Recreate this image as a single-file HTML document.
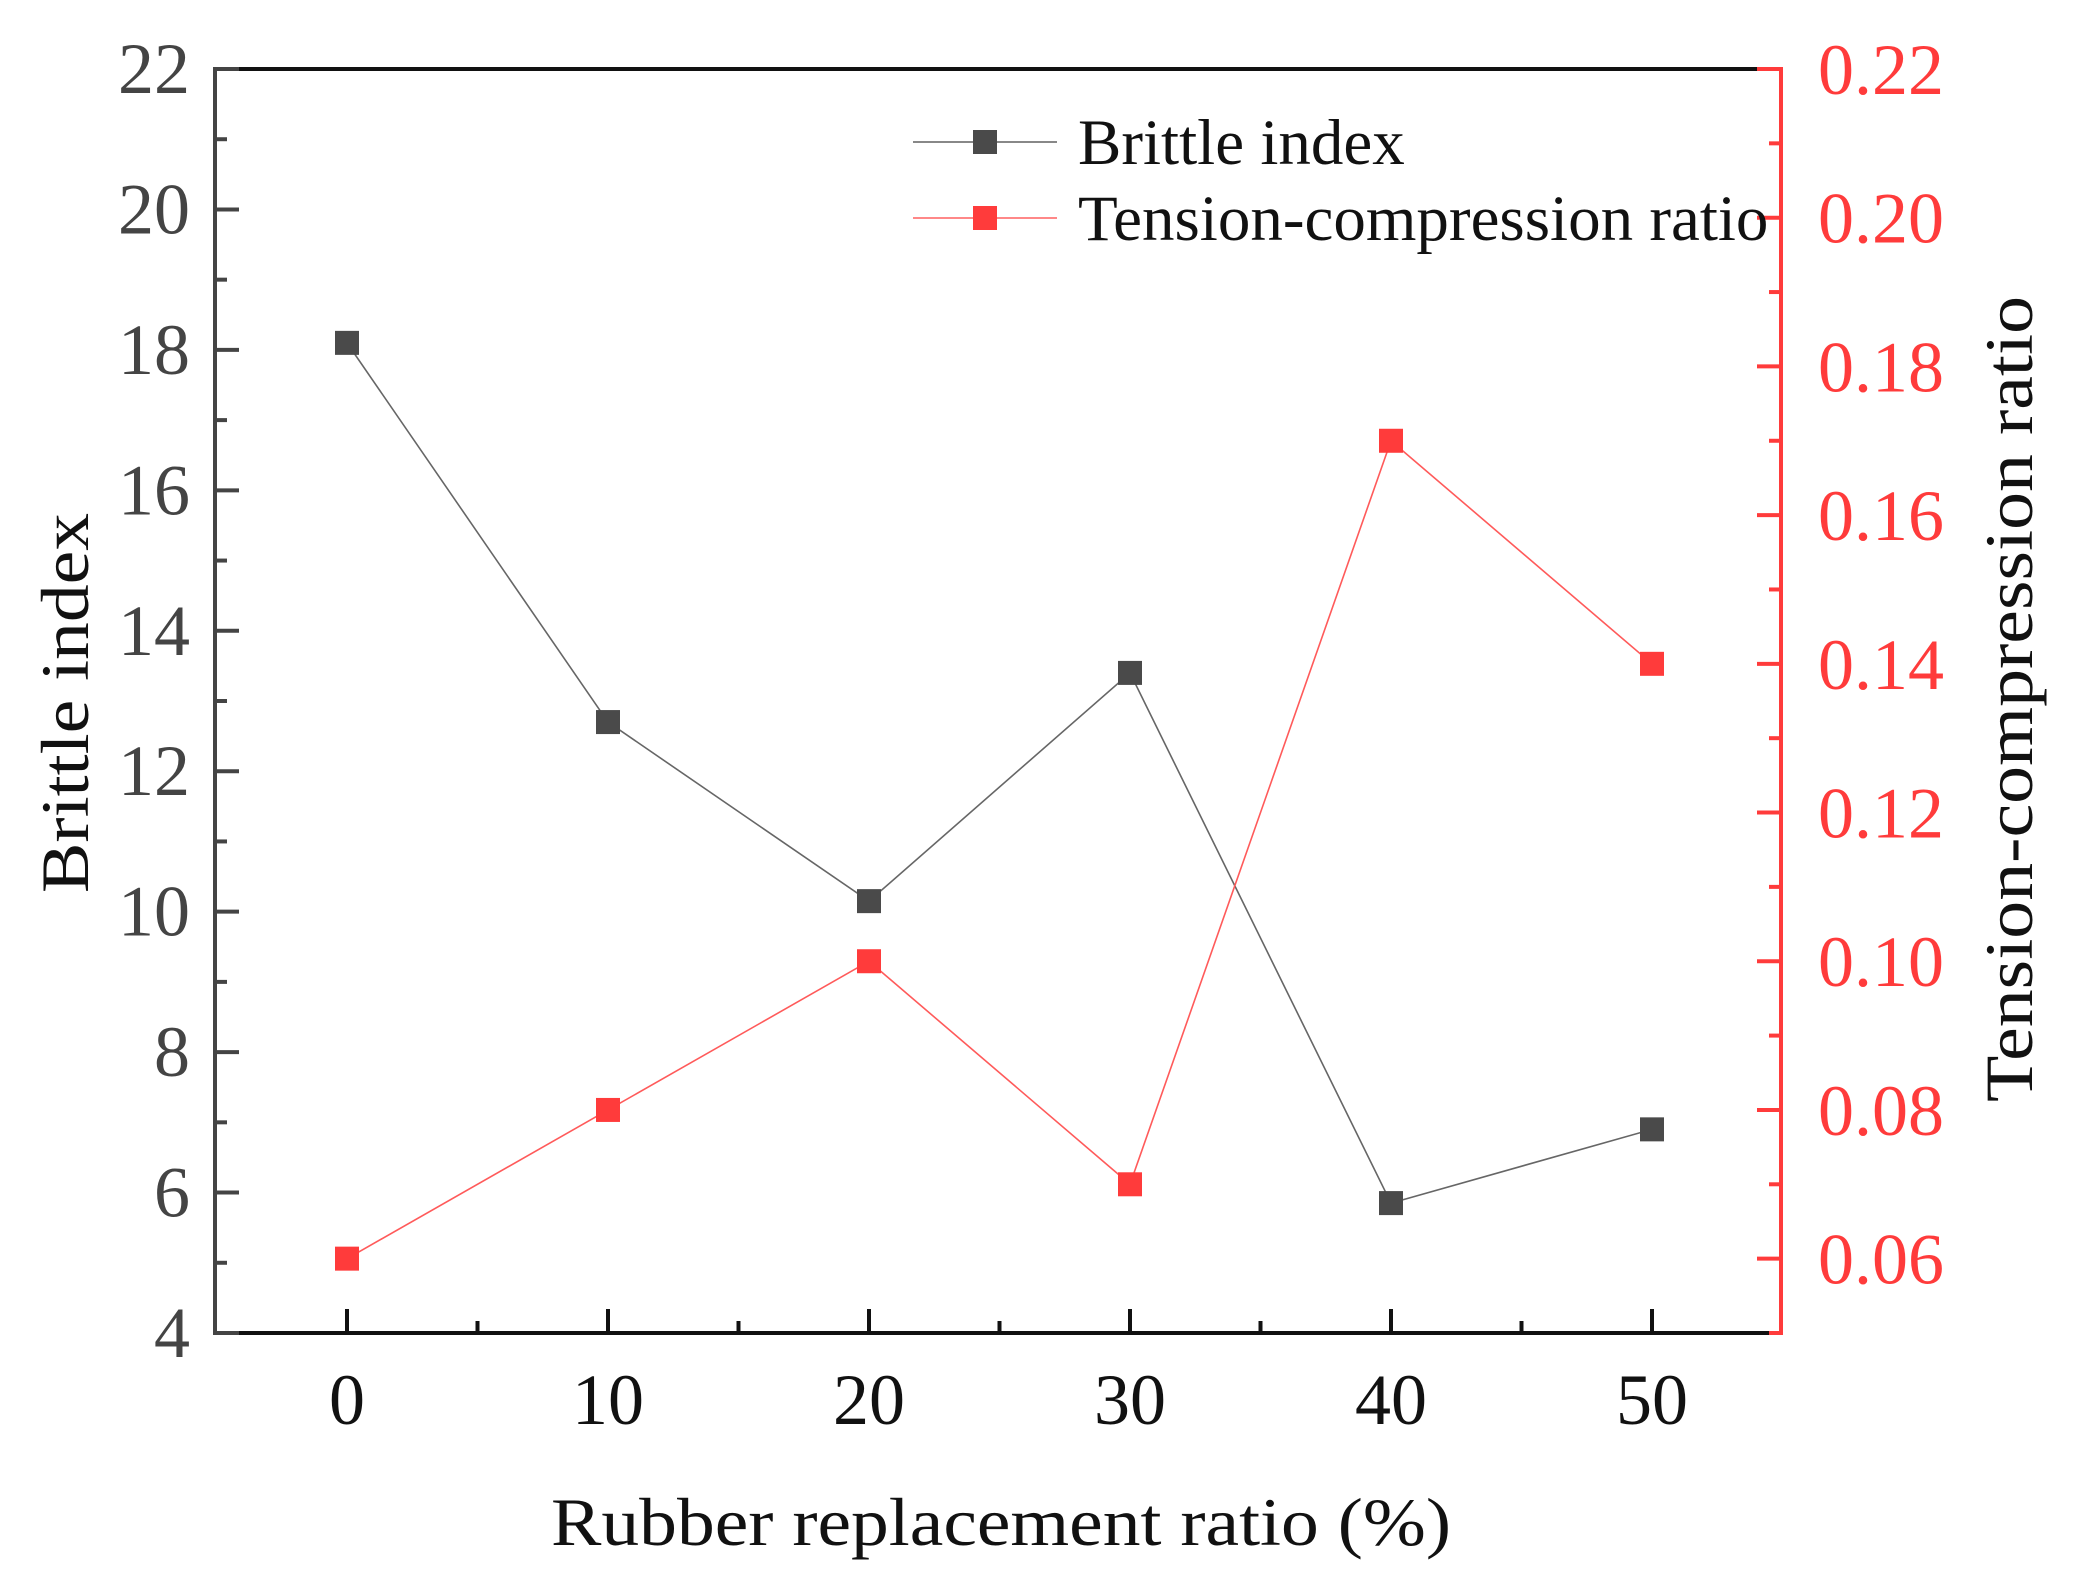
<!DOCTYPE html>
<html><head><meta charset="utf-8"><style>
html,body{margin:0;padding:0;background:#fff;}
svg{display:block;font-family:"Liberation Serif",serif;}
</style></head><body>
<svg id="chart" width="2073" height="1584" viewBox="0 0 2073 1584"></svg>
<script>
const categories=[0,10,20,30,40,50];
const brittleValues=[18.1,12.7,10.15,13.4,5.85,6.9];
const tensionValues=[0.06,0.08,0.10,0.07,0.17,0.14];
const leftTicks=[4,6,8,10,12,14,16,18,20,22];
const rightTicks=[0.06,0.08,0.10,0.12,0.14,0.16,0.18,0.20,0.22];
const xTicks=[0,10,20,30,40,50];

const L=215,R=1781,T=69,B=1333;
const X0=347,X50=1652;
const xs=v=>X0+(X50-X0)*v/50;
const yl=v=>B-(B-T)*(v-4)/18;
const yr=v=>B-(B-T)*(v-0.05)/0.17;
const NS="http://www.w3.org/2000/svg";
const svg=document.getElementById('chart');
function mk(tag,attrs,parent){const e=document.createElementNS(NS,tag);for(const k in attrs)e.setAttribute(k,attrs[k]);(parent||svg).appendChild(e);return e;}

let e;
e=mk('line',{x1:L,y1:T,x2:R,y2:T,stroke:'#111','stroke-width':4});


e=mk('line',{x1:L,y1:T-2,x2:L,y2:B+2,stroke:'#444','stroke-width':4});


e=mk('line',{x1:L,y1:B,x2:R,y2:B,stroke:'#111','stroke-width':4});


e=mk('line',{x1:R,y1:T-2,x2:R,y2:B+2,stroke:'#ff3b3b','stroke-width':4});



for(let v=5;v<=21;v+=2){e=mk('line',{x1:L,y1:yl(v),x2:L+12,y2:yl(v),stroke:'#444','stroke-width':4});

}
leftTicks.forEach(v=>{
 e=mk('line',{x1:L,y1:yl(v),x2:L+24,y2:yl(v),stroke:'#444','stroke-width':4});
 
 
 const t=mk('text',{x:190,y:yl(v)+24,'text-anchor':'end','font-size':72,fill:'#444'});t.textContent=v;
 
 
});
for(let i=0;i<9;i++){const v=0.05+0.02*i;if(v>0.215)break;e=mk('line',{x1:R,y1:yr(v),x2:R-12,y2:yr(v),stroke:'#ff3b3b','stroke-width':4});

}
rightTicks.forEach(v=>{
 e=mk('line',{x1:R,y1:yr(v),x2:R-24,y2:yr(v),stroke:'#ff3b3b','stroke-width':4});
 
 
 const t=mk('text',{x:1818,y:yr(v)+25,'font-size':72,fill:'#ff3b3b'});t.textContent=v.toFixed(2);
 
 
});
for(let v=5;v<=55;v+=10){const x=xs(v);if(x>=R-2)continue;e=mk('line',{x1:x,y1:B,x2:x,y2:B-12,stroke:'#111','stroke-width':4});

}
xTicks.forEach(v=>{
 e=mk('line',{x1:xs(v),y1:B,x2:xs(v),y2:B-24,stroke:'#111','stroke-width':4});
 
 
 const t=mk('text',{x:xs(v),y:1424,'text-anchor':'middle','font-size':72,fill:'#111'});t.textContent=v;
 
 
});
e=mk('text',{x:1001,y:1545,'text-anchor':'middle','font-size':68,fill:'#111',textLength:900,lengthAdjust:'spacingAndGlyphs'});e.textContent='Rubber replacement ratio (%)';


e=mk('text',{x:0,y:0,'text-anchor':'middle','font-size':68,fill:'#111',transform:'translate(88,703) rotate(-90)',textLength:380,lengthAdjust:'spacingAndGlyphs'});e.textContent='Brittle index';


e=mk('text',{x:0,y:0,'text-anchor':'middle','font-size':68,fill:'#111',transform:'translate(2032,699) rotate(-90)',textLength:806,lengthAdjust:'spacingAndGlyphs'});e.textContent='Tension-compression ratio';



function series(vals,yf,color,lineColor,name){
 const pts=categories.map((c,i)=>xs(c)+','+yf(vals[i])).join(' ');
 const pl=mk('polyline',{points:pts,fill:'none',stroke:lineColor,'stroke-width':1.6});
 
 
 categories.forEach((c,i)=>{
  const r=mk('rect',{x:xs(c)-12,y:yf(vals[i])-12,width:24,height:24,fill:color});
  
  
 });
}
series(brittleValues,yl,'#4a4a4a','#666','brittle-index');
series(tensionValues,yr,'#ff3b3b','#ff5a5a','tension-ratio');

[['Brittle index','#4a4a4a',142,'#777'],['Tension-compression ratio','#ff3b3b',218,'#ff7777']].forEach(d=>{
 const g=mk('g',{});
 
 
 mk('line',{x1:913,y1:d[2],x2:1057,y2:d[2],stroke:d[3],'stroke-width':1.8},g);
 mk('rect',{x:973,y:d[2]-12,width:24,height:24,fill:d[1]},g);
 const t=mk('text',{x:1078,y:d[2]+22,'font-size':65,fill:'#111'},g);t.textContent=d[0];
});
</script>
</body></html>
